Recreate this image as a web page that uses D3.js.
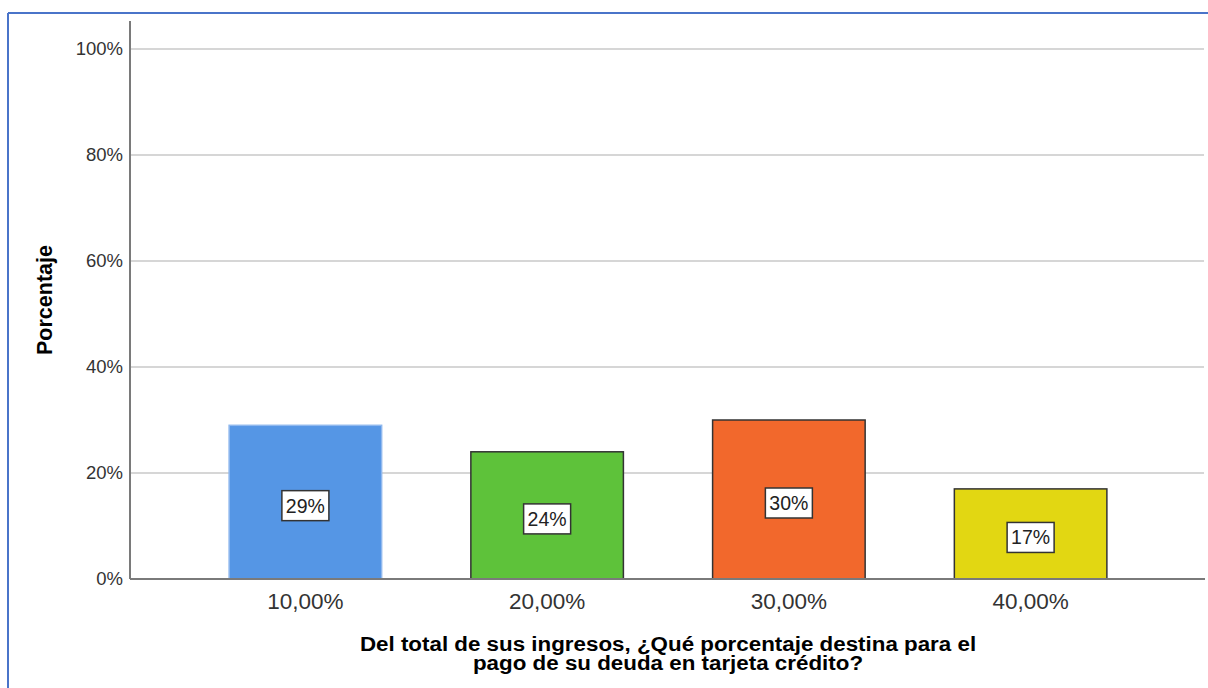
<!DOCTYPE html>
<html>
<head>
<meta charset="utf-8">
<script src="https://cdn.jsdelivr.net/npm/d3@7"></script>
<style>
  html, body { margin: 0; padding: 0; background: #ffffff; }
  svg { display: block; }
  text { font-family: "Liberation Sans", Arial, sans-serif; }
</style>
</head>
<body>
<svg id="chart" width="1208" height="688"></svg>
<script>
// Response categories (share of income paid toward credit-card debt)
const categories = ["10,00%", "20,00%", "30,00%", "40,00%"];
// Percentage of respondents in each category
const percentages = [29, 24, 30, 17];
const barColors = ["#5596e5", "#5ec23a", "#f2682c", "#e2d712"];
const barStrokes = ["#8fb8ee", "#333333", "#333333", "#333333"];
const yTicks = [0, 20, 40, 60, 80, 100];
const xTitleLines = [
  "Del total de sus ingresos, ¿Qué porcentaje destina para el",
  "pago de su deuda en tarjeta crédito?"
];
const yTitle = "Porcentaje";

const svg = d3.select("#chart");

// Outer frame (top and left edges)
svg.append("line").attr("x1", 8).attr("x2", 1208).attr("y1", 13).attr("y2", 13)
  .attr("stroke", "#4a74c9").attr("stroke-width", 2);
svg.append("line").attr("x1", 8).attr("x2", 8).attr("y1", 13).attr("y2", 688)
  .attr("stroke", "#4a74c9").attr("stroke-width", 2);

const plot = { left: 130, right: 1206, top: 49, bottom: 579, axisTop: 21 };

const x = d3.scaleBand()
  .domain(categories)
  .range([plot.left, plot.right])
  .paddingInner(0.369)
  .paddingOuter(0.41);

const y = d3.scaleLinear()
  .domain([0, 100])
  .range([plot.bottom, plot.top]);

// Horizontal gridlines
svg.append("g")
  .selectAll("line")
  .data(yTicks.filter(t => t > 0))
  .join("line")
  .attr("x1", plot.left)
  .attr("x2", 1204)
  .attr("y1", d => y(d))
  .attr("y2", d => y(d))
  .attr("stroke", "#c8c8c8")
  .attr("stroke-width", 1.6);

// Y axis labels
const yAxis = d3.axisLeft(y)
  .tickValues(yTicks)
  .tickFormat(d => d + "%")
  .tickSize(0)
  .tickPadding(7);
const gy = svg.append("g")
  .attr("transform", `translate(${plot.left},0)`)
  .call(yAxis);
gy.select(".domain").remove();
gy.selectAll("text")
  .attr("font-size", 18.5)
  .attr("fill", "#333333")
  .attr("font-family", "'Liberation Sans', Arial, sans-serif");

// Bars
svg.append("g")
  .selectAll("rect")
  .data(percentages)
  .join("rect")
  .attr("x", (d, i) => x(categories[i]))
  .attr("width", x.bandwidth())
  .attr("y", d => y(d))
  .attr("height", d => y(0) - y(d))
  .attr("fill", (d, i) => barColors[i])
  .attr("stroke", (d, i) => barStrokes[i])
  .attr("stroke-width", 1.5);

// Axis lines
svg.append("line")
  .attr("x1", plot.left).attr("x2", plot.left)
  .attr("y1", plot.axisTop).attr("y2", plot.bottom)
  .attr("stroke", "#7a7a7a").attr("stroke-width", 2);
svg.append("line")
  .attr("x1", plot.left).attr("x2", 1205)
  .attr("y1", plot.bottom).attr("y2", plot.bottom)
  .attr("stroke", "#7a7a7a").attr("stroke-width", 2);

// X axis category labels
const xAxis = d3.axisBottom(x).tickSize(0).tickPadding(14);
const gx = svg.append("g")
  .attr("transform", `translate(0,${plot.bottom})`)
  .call(xAxis);
gx.select(".domain").remove();
gx.selectAll("text")
  .attr("font-size", 22.5)
  .attr("fill", "#333333")
  .attr("font-family", "'Liberation Sans', Arial, sans-serif");

// Value labels in boxes
const labels = svg.append("g")
  .selectAll("g")
  .data(percentages)
  .join("g")
  .attr("transform", (d, i) => {
    const cx = x(categories[i]) + x.bandwidth() / 2;
    const cy = (y(d) + y(0)) / 2 + 3.5;
    return `translate(${cx},${cy})`;
  });
labels.append("rect")
  .attr("x", -23.5).attr("y", -15)
  .attr("width", 47).attr("height", 30)
  .attr("fill", "#ffffff")
  .attr("stroke", "#333333")
  .attr("stroke-width", 1.5);
labels.append("text")
  .attr("text-anchor", "middle")
  .attr("dy", "0.36em")
  .attr("font-size", 19.5)
  .attr("fill", "#222222")
  .text(d => d + "%");

// X axis title: two centred lines, slightly widened
const xt = svg.append("g")
  .attr("transform", "translate(668,0) scale(1.13,1)")
  .append("text")
  .attr("text-anchor", "middle")
  .attr("font-size", 19.8)
  .attr("font-weight", "bold")
  .attr("fill", "#000000");
xt.selectAll("tspan")
  .data(xTitleLines)
  .join("tspan")
  .attr("x", 0)
  .attr("y", (d, i) => 651 + i * 19.5)
  .text(d => d);

// Y axis title
svg.append("text")
  .attr("transform", "translate(52,300) rotate(-90)")
  .attr("text-anchor", "middle")
  .attr("font-size", 21.5)
  .attr("font-weight", "bold")
  .attr("fill", "#000000")
  .text(yTitle);
</script>
</body>
</html>
